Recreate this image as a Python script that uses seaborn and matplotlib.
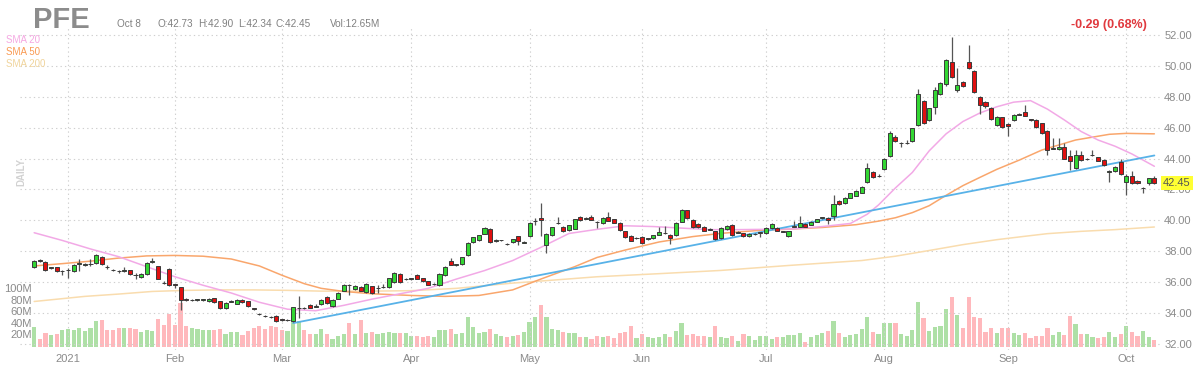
import numpy as np
import pandas as pd
import matplotlib
matplotlib.use("Agg")
import matplotlib.pyplot as plt
import matplotlib.transforms as mtransforms
import seaborn as sns

# ---------------- data ----------------
ticker = "PFE"
start_date = "2020-12-23"
end_date = "2021-10-08"
holidays = ["2020-12-25", "2021-01-01", "2021-01-18", "2021-02-15",
            "2021-04-02", "2021-05-31", "2021-07-05", "2021-09-06"]

opens = [
    36.95, 37.43, 37.30, 36.92, 36.95, 36.70, 36.78, 36.72, 37.20, 37.12,
    37.17, 37.23, 37.66, 36.98, 36.78, 36.72, 36.74, 36.78, 36.46, 36.31,
    36.52, 37.32, 37.02, 35.96, 36.85, 35.85, 35.66, 34.88, 34.84, 34.86,
    34.85, 34.76, 34.97, 34.76, 34.32, 34.74, 34.60, 34.85, 34.76, 34.30,
    33.96, 33.80, 33.74, 33.83, 33.58, 33.55, 33.46, 34.30, 34.34, 34.54,
    34.42, 34.58, 35.01, 34.49, 34.92, 35.44, 35.80, 35.57, 35.68, 35.36,
    35.72, 35.62, 35.66, 35.66, 36.00, 36.52, 36.20, 36.22, 36.44, 36.26,
    36.05, 35.88, 35.79, 36.44, 37.39, 37.12, 37.17, 37.78, 38.60, 38.70,
    39.14, 39.46, 38.68, 38.70, 38.48, 38.57, 38.96, 38.56, 38.96, 39.96,
    40.15, 38.42, 39.03, 39.80, 39.60, 39.39, 39.46, 40.22, 40.12, 40.25,
    39.90, 39.80, 40.22, 40.07, 39.86, 39.28, 39.00, 38.84, 38.94, 38.78,
    38.83, 39.07, 39.16, 39.07, 39.07, 39.92, 40.65, 40.03, 39.75, 39.60,
    39.40, 39.28, 38.86, 39.43, 39.69, 39.20, 39.15, 38.96, 39.10, 39.20,
    39.15, 39.50, 39.50, 39.26, 38.98, 39.58, 39.60, 39.75, 39.71, 39.92,
    40.16, 40.18, 40.29, 41.25, 41.10, 41.47, 41.60, 41.80, 42.50, 43.16,
    42.86, 43.30, 44.16, 45.38, 45.00, 45.00, 45.12, 46.17, 47.73, 46.49,
    47.36, 48.15, 48.80, 50.23, 48.41, 48.97, 50.25, 49.65, 47.98, 47.66,
    47.30, 46.17, 46.66, 46.23, 46.50, 46.85, 46.99, 46.52, 46.50, 46.28,
    45.78, 44.64, 44.61, 44.77, 44.18, 43.36, 44.23, 43.95, 44.20, 44.07,
    43.90, 43.16, 43.18, 43.79, 42.50, 42.88, 42.54, 42.08, 42.39, 42.73,
]
highs = [
    37.45, 37.50, 37.40, 37.00, 37.00, 36.78, 36.90, 37.20, 37.50, 37.22,
    37.50, 37.85, 37.70, 37.10, 36.85, 36.78, 36.95, 36.82, 36.60, 36.58,
    37.28, 37.56, 37.05, 36.05, 36.90, 35.90, 35.70, 34.95, 34.92, 34.93,
    34.92, 34.97, 35.00, 34.80, 34.70, 34.82, 34.92, 34.90, 34.80, 34.35,
    34.00, 33.86, 33.78, 33.88, 33.64, 33.62, 34.42, 35.08, 34.40, 34.60,
    34.60, 34.92, 35.08, 34.90, 35.38, 35.85, 35.88, 35.80, 35.74, 35.92,
    35.78, 35.79, 35.85, 36.30, 36.68, 36.58, 36.30, 36.28, 36.50, 36.30,
    36.10, 35.95, 36.58, 37.02, 37.56, 37.20, 37.65, 38.58, 38.95, 39.08,
    39.55, 39.52, 38.78, 38.76, 38.55, 38.82, 39.00, 38.66, 39.88, 40.15,
    41.12, 39.18, 39.60, 40.19, 39.66, 39.72, 40.12, 40.30, 40.22, 40.32,
    39.98, 40.22, 40.57, 40.12, 39.90, 39.32, 39.05, 38.92, 38.98, 38.88,
    39.08, 39.54, 39.65, 39.12, 39.90, 40.72, 40.70, 40.08, 39.80, 39.65,
    39.48, 39.32, 39.55, 39.70, 39.74, 39.28, 39.20, 39.15, 39.16, 39.26,
    39.55, 39.85, 39.55, 39.34, 39.32, 39.97, 40.29, 39.80, 39.96, 40.10,
    40.22, 40.22, 41.64, 41.30, 41.52, 41.78, 41.94, 42.25, 43.72, 43.22,
    42.98, 44.05, 45.80, 45.50, 45.10, 45.20, 46.00, 48.52, 47.80, 47.30,
    48.60, 48.96, 50.45, 51.85, 49.86, 49.05, 51.36, 49.75, 48.05, 47.75,
    47.35, 46.78, 46.72, 46.30, 46.88, 46.95, 47.47, 46.58, 46.55, 46.32,
    45.85, 45.30, 45.30, 45.00, 44.55, 44.55, 44.50, 44.05, 44.55, 44.12,
    43.95, 43.25, 43.52, 44.00, 43.00, 43.20, 42.60, 42.15, 42.76, 42.90,
]
lows = [
    36.90, 37.30, 36.75, 36.85, 36.65, 36.44, 36.26, 36.65, 36.70, 37.05,
    37.05, 37.20, 37.10, 36.85, 36.70, 36.62, 36.68, 36.48, 36.22, 36.28,
    36.48, 37.25, 36.18, 35.88, 35.75, 35.62, 34.22, 34.80, 34.78, 34.80,
    34.80, 34.72, 34.68, 34.28, 34.28, 34.70, 34.56, 34.66, 34.40, 34.20,
    33.88, 33.74, 33.66, 33.42, 33.50, 33.48, 33.42, 33.68, 34.25, 34.30,
    34.38, 34.52, 34.60, 34.42, 34.88, 35.40, 35.14, 35.52, 35.40, 35.30,
    35.26, 35.29, 35.62, 35.60, 35.96, 35.95, 36.15, 36.16, 36.18, 36.00,
    35.80, 35.82, 35.75, 36.40, 37.08, 37.05, 37.12, 37.72, 38.55, 38.65,
    39.10, 38.55, 38.62, 38.64, 38.40, 38.52, 38.40, 38.52, 38.92, 39.72,
    38.96, 37.88, 38.98, 39.76, 39.24, 39.34, 39.42, 39.96, 40.08, 40.00,
    39.50, 39.75, 39.93, 39.82, 39.33, 38.86, 38.64, 38.80, 38.45, 38.74,
    38.80, 39.04, 39.12, 38.47, 39.02, 39.88, 40.12, 39.50, 39.50, 39.28,
    39.38, 38.74, 38.80, 39.40, 39.02, 39.16, 38.94, 38.92, 39.06, 38.94,
    39.10, 39.46, 39.28, 39.22, 38.94, 39.55, 39.56, 39.56, 39.68, 39.88,
    40.12, 39.75, 40.00, 40.98, 41.06, 41.44, 41.56, 41.75, 42.40, 42.72,
    42.78, 43.26, 44.10, 45.10, 44.74, 44.95, 45.08, 46.10, 46.25, 46.40,
    46.90, 48.10, 48.70, 49.20, 48.30, 48.62, 49.80, 48.25, 46.90, 47.30,
    46.50, 46.10, 45.95, 45.48, 46.45, 46.80, 46.74, 46.40, 46.00, 45.58,
    44.23, 44.60, 44.57, 43.95, 43.25, 43.30, 43.85, 43.90, 44.15, 43.82,
    43.52, 42.50, 43.14, 42.92, 41.63, 42.34, 42.34, 41.74, 42.30, 42.34,
]
closes = [
    37.38, 37.36, 36.80, 36.96, 36.70, 36.72, 36.80, 37.13, 37.22, 37.15,
    37.19, 37.77, 37.17, 36.95, 36.76, 36.70, 36.76, 36.52, 36.44, 36.54,
    37.23, 37.34, 36.22, 35.94, 35.79, 35.83, 34.86, 34.86, 34.86, 34.88,
    34.86, 34.93, 34.71, 34.32, 34.65, 34.76, 34.86, 34.70, 34.43, 34.28,
    33.94, 33.79, 33.72, 33.46, 33.57, 33.57, 34.37, 34.32, 34.32, 34.36,
    34.44, 34.86, 34.64, 34.86, 35.33, 35.79, 35.79, 35.77, 35.44, 35.87,
    35.29, 35.64, 35.68, 36.26, 36.59, 36.00, 36.22, 36.22, 36.22, 36.05,
    35.83, 35.90, 36.52, 36.98, 37.13, 37.13, 37.60, 38.53, 38.90, 39.03,
    39.50, 38.60, 38.70, 38.70, 38.47, 38.79, 38.64, 38.62, 39.83, 39.98,
    40.00, 39.14, 39.55, 39.83, 39.29, 39.68, 40.08, 40.00, 40.15, 40.04,
    39.87, 40.18, 39.97, 39.86, 39.37, 38.90, 38.68, 38.86, 38.51, 38.83,
    39.05, 39.22, 39.18, 38.83, 39.86, 40.67, 40.18, 39.54, 39.54, 39.33,
    39.43, 38.79, 39.50, 39.65, 39.07, 39.22, 38.98, 39.11, 39.11, 39.22,
    39.50, 39.75, 39.33, 39.28, 39.28, 39.60, 39.82, 39.60, 39.92, 40.07,
    40.18, 40.00, 41.04, 41.04, 41.47, 41.74, 41.90, 42.15, 43.41, 42.78,
    42.88, 43.99, 45.65, 45.16, 45.01, 45.01, 45.95, 48.15, 46.30, 47.24,
    48.43, 48.90, 50.40, 49.29, 48.75, 48.69, 49.86, 48.30, 47.45, 47.40,
    46.55, 46.72, 46.02, 46.08, 46.82, 46.87, 46.78, 46.50, 46.06, 45.63,
    44.55, 44.66, 44.77, 44.00, 43.86, 44.23, 43.90, 43.97, 44.23, 43.86,
    43.57, 43.18, 43.47, 42.97, 42.88, 42.39, 42.39, 42.10, 42.71, 42.45,
]
volumes_m = [
    34.6, 13.8, 24.2, 21.3, 23.0, 28.8, 31.7, 28.8, 32.9, 27.1,
    32.3, 45.0, 46.1, 30.0, 28.8, 33.4, 32.9, 32.9, 31.7, 25.4,
    30.0, 27.1, 48.4, 38.6, 57.7, 38.6, 76.0, 36.9, 32.9, 31.1,
    30.0, 30.0, 28.8, 31.1, 23.0, 26.5, 25.4, 21.3, 27.1, 32.9,
    35.8, 31.1, 36.9, 34.6, 28.8, 27.1, 48.4, 44.4, 30.0, 23.0,
    22.5, 30.6, 22.5, 14.5, 19.5, 22.5, 41.0, 22.5, 45.8, 23.3,
    26.5, 22.5, 23.6, 26.0, 24.8, 23.6, 23.6, 19.6, 19.6, 17.9,
    19.6, 16.7, 29.4, 29.4, 30.6, 22.5, 23.6, 51.3, 35.2, 24.8,
    26.5, 30.6, 22.5, 19.0, 16.7, 19.0, 20.8, 26.5, 43.8, 52.5,
    72.7, 51.3, 30.6, 29.4, 26.5, 24.8, 23.6, 17.9, 16.7, 14.0,
    19.0, 16.7, 19.0, 15.0, 23.6, 26.5, 36.3, 15.0, 22.5, 17.9,
    16.1, 17.9, 21.9, 17.9, 28.3, 41.0, 20.8, 22.5, 19.0, 19.0,
    17.9, 36.3, 17.9, 15.0, 19.0, 11.0, 22.5, 19.0, 12.1, 19.0,
    19.0, 13.3, 16.7, 16.7, 20.8, 20.8, 23.6, 9.2, 16.7, 20.8,
    23.6, 28.3, 45.6, 24.8, 16.7, 20.8, 22.5, 30.8, 51.3, 26.5,
    23.0, 40.9, 42.0, 40.9, 22.5, 19.0, 29.4, 78.4, 49.6, 28.3,
    34.0, 36.3, 65.2, 85.9, 55.4, 33.4, 85.9, 52.5, 49.6, 26.5,
    32.3, 23.6, 33.4, 32.3, 24.8, 20.0, 23.6, 15.0, 19.0, 19.0,
    33.4, 20.8, 26.5, 20.8, 53.6, 39.2, 22.5, 22.5, 16.7, 15.0,
    17.9, 26.5, 16.7, 22.5, 36.3, 26.5, 19.0, 28.3, 16.7, 12.65,
]

# moving averages (trading-day index, value)
sma20_idx = [0, 5, 10, 15, 20, 25, 30, 35, 40, 45, 50, 55, 60, 65, 70, 75, 80, 85, 90, 95,
             100, 105, 110, 115, 120, 125, 130, 135, 140, 145, 148, 150, 153, 156, 159, 162,
             165, 168, 171, 174, 177, 180, 183, 186, 189, 192, 195, 199]
sma20_val = [39.2, 38.7, 38.15, 37.65, 37.0, 36.35, 35.8, 35.3, 34.7, 34.25, 34.15, 34.5,
             34.9, 35.25, 35.6, 36.2, 36.75, 37.4, 38.25, 39.15, 39.42, 39.65, 39.6, 39.5,
             39.4, 39.4, 39.42, 39.45, 39.6, 39.8, 40.4, 41.0, 42.1, 43.1, 44.5, 45.6,
             46.4, 46.95, 47.35, 47.65, 47.75, 47.2, 46.5, 45.75, 45.2, 44.8, 44.3, 43.5]
sma50_idx = [0, 5, 10, 15, 20, 25, 30, 35, 40, 44, 48, 51, 55, 60, 67, 73, 79, 85, 90, 96,
             100, 105, 111, 117, 122, 128, 134, 140, 146, 150, 153, 156, 159, 162, 165, 168,
             171, 175, 179, 185, 191, 194, 199]
sma50_val = [37.05, 37.2, 37.36, 37.56, 37.7, 37.73, 37.68, 37.5, 37.05, 36.45, 35.9, 35.6,
             35.4, 35.25, 35.14, 35.08, 35.14, 35.5, 36.2, 37.0, 37.6, 38.08, 38.6, 38.95,
             39.16, 39.33, 39.43, 39.54, 39.72, 39.95, 40.17, 40.5, 40.95, 41.62, 42.25,
             42.78, 43.3, 43.9, 44.55, 45.2, 45.57, 45.63, 45.6]
sma200_idx = [0, 9, 15, 21, 27, 33, 39, 45, 51, 60, 67, 75, 85, 91, 100, 111, 122, 134, 147,
              153, 159, 165, 171, 176, 180, 186, 192, 199]
sma200_val = [34.75, 35.08, 35.23, 35.4, 35.47, 35.5, 35.5, 35.47, 35.42, 35.42, 35.45, 35.6,
              35.94, 36.1, 36.35, 36.55, 36.76, 37.08, 37.4, 37.68, 38.05, 38.43, 38.75,
              38.97, 39.14, 39.29, 39.4, 39.57]
trend_idx = [46, 199]
trend_val = [33.35, 44.2]

price_ticks = [32, 34, 36, 38, 40, 42, 44, 46, 48, 50, 52]
volume_ticks = [20, 40, 60, 80, 100]
header_date = "Oct 8"
header_ohlc = ["O:42.73", "H:42.90", "L:42.34", "C:42.45"]
header_vol = "Vol:12.65M"
change_text = "-0.29 (0.68%)"
last_price = 42.45

# ---------------- frame ----------------
dates = pd.bdate_range(start_date, end_date)
dates = dates[~dates.isin(pd.to_datetime(holidays))]
df = pd.DataFrame({"date": dates, "open": opens, "high": highs, "low": lows,
                   "close": closes, "volume": volumes_m})
df["i"] = np.arange(len(df))
df["up"] = df["close"] >= df["open"]

month_first = df.groupby(df["date"].dt.to_period("M"))["i"].min()
month_first = month_first[month_first.index >= pd.Period("2021-01", "M")]
month_pos = list(month_first.values)
month_lab = ["2021" if p.month == 1 else p.strftime("%b") for p in month_first.index]

# ---------------- style ----------------
sns.set_theme(style="white")
plt.rcParams['font.family'] = ['Liberation Sans', 'DejaVu Sans']

W, H = 1200, 375
fig = plt.figure(figsize=(12, 3.75), dpi=100)
fx = lambda px: px / W
fy = lambda py: 1 - py / H
L, R, T, B = 20, 1160, 28, 350
rect = [fx(L), fy(B), fx(R) - fx(L), fy(T) - fy(B)]

xlim = (-2.52, 200.0)

# volume axes (behind)
axv = fig.add_axes(rect)
axv.set_xlim(*xlim)
axv.set_ylim(-5.2, 550)
vol_colors = np.where(df["up"], "#aee0a6", "#ffb8bc")
axv.bar(df["i"], df["volume"], width=0.74, color=vol_colors, linewidth=0)
axv.set_xticks([]); axv.set_yticks([])
for s in axv.spines.values():
    s.set_visible(False)
vtr = mtransforms.blended_transform_factory(fig.transFigure, axv.transData)
for v in volume_ticks:
    axv.text(fx(32), v, f"{v}M", transform=vtr, ha="right", va="center",
             fontsize=8, color="#8a8a8a")

# price axes (front)
ax = fig.add_axes(rect)
ax.patch.set_visible(False)
ax.set_xlim(*xlim)
ax.set_ylim(31.61, 52.45)
for s in ax.spines.values():
    s.set_visible(False)

ax.set_yticks(price_ticks)
ax.set_yticklabels([f"{v:.2f}" for v in price_ticks])
ax.yaxis.tick_right()
ax.set_xticks(month_pos)
ax.set_xticklabels(month_lab)
ax.tick_params(axis="y", length=0, pad=3, labelsize=8, labelcolor="#8a8a8a")
ax.tick_params(axis="x", length=0, pad=3, labelsize=8, labelcolor="#8a8a8a")
ax.grid(True, color="#cfcfcf", linestyle=(0, (1.2, 2.8)), linewidth=0.8, zorder=0)
ax.set_axisbelow(True)

# moving averages and trend line
sns.lineplot(x=sma200_idx, y=sma200_val, ax=ax, color="#f9dcae", linewidth=1.1,
             estimator=None, zorder=2)
sns.lineplot(x=sma50_idx, y=sma50_val, ax=ax, color="#f9a66c", linewidth=1.1,
             estimator=None, zorder=2)
sns.lineplot(x=sma20_idx, y=sma20_val, ax=ax, color="#f2a9e6", linewidth=1.1,
             estimator=None, zorder=2)
sns.lineplot(x=trend_idx, y=trend_val, ax=ax, color="#58b2e8", linewidth=1.3,
             estimator=None, zorder=2.5)

# candles
ax.vlines(df["i"], df["low"], df["high"], color="#555555", linewidth=0.9, zorder=3)
body_bottom = np.minimum(df["open"], df["close"])
body_h = np.maximum((df["close"] - df["open"]).abs(), 0.03)
body_colors = np.where(df["up"], "#33d633", "#e01010")
ax.bar(df["i"], body_h, bottom=body_bottom, width=0.72, color=body_colors,
       edgecolor="#3a3a3a", linewidth=0.7, zorder=4)
ax.set_xlabel(""); ax.set_ylabel("")

# last price badge
btr = mtransforms.blended_transform_factory(ax.transAxes, ax.transData)
ax.text(1.0 + 3 / (R - L), last_price, f"{last_price:.2f}", transform=btr,
        ha="left", va="center", fontsize=8, color="#555555", zorder=6,
        bbox=dict(boxstyle="square,pad=0.18", fc="#ffff33", ec="none"))

# header
fig.text(fx(33), fy(28), ticker, fontsize=21, fontweight="bold", color="#8c8c8c",
         ha="left", va="baseline")
fig.text(fx(117), fy(27), header_date, fontsize=7.2, color="#808080", va="baseline")
for xpx, t in zip([157, 198, 238, 275], header_ohlc):
    fig.text(fx(xpx), fy(27), t, fontsize=7.2, color="#808080", va="baseline")
fig.text(fx(330), fy(27), header_vol, fontsize=7.2, color="#808080", va="baseline")
fig.text(fx(1147), fy(28), change_text, fontsize=9, fontweight="bold", color="#e0393e",
         ha="right", va="baseline")

# SMA legend
for ypx, lab, col in [(43, "SMA 20", "#f5a8e2"), (55, "SMA 50", "#f99a52"),
                      (67, "SMA 200", "#f0d49c")]:
    fig.text(fx(6), fy(ypx), lab, fontsize=7, color=col, ha="left", va="baseline")

fig.text(fx(21), fy(172), "DAILY", rotation=90, fontsize=7, fontweight="bold",
         color="#d2d2d2", ha="center", va="center")

fig.savefig("out.png", dpi=100)
